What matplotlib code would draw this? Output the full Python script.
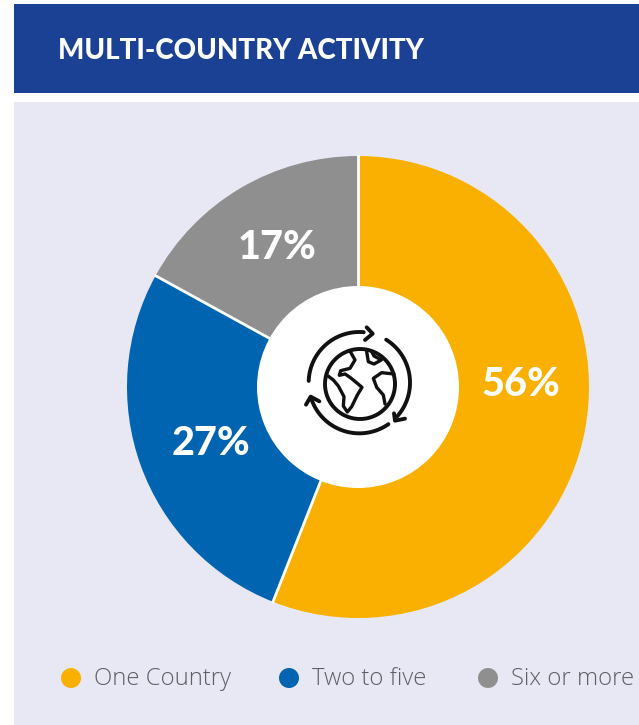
import numpy as np
import matplotlib
matplotlib.use("Agg")
import matplotlib.pyplot as plt
from matplotlib.patches import Circle, Rectangle

# --- Data ---
categories = ["One Country", "Two to five", "Six or more"]
shares = [56, 27, 17]
colors = ["#F9B000", "#0064B1", "#8F8F8F"]

W, H = 639, 725
CX, CY = 358, 338  # donut centre, y measured from the bottom
R_OUT, R_IN = 231, 101

fig = plt.figure(figsize=(W / 100, H / 100), dpi=100, facecolor="white")
ax = fig.add_axes([0, 0, 1, 1])

# --- Donut ---
ax.pie(shares, colors=colors, startangle=90, counterclock=False,
       center=(CX, CY), radius=R_OUT, frame=False,
       wedgeprops={"linewidth": 0, "zorder": 2})
ax.set_xlim(0, W)
ax.set_ylim(0, H)
ax.set_aspect("equal")
ax.axis("off")

# white separators between the slices
bounds = 90 - 3.6 * np.cumsum([0] + shares[:-1])
for a in np.radians(bounds):
    ax.plot([CX, CX + R_OUT * np.cos(a)], [CY, CY + R_OUT * np.sin(a)],
            color="white", lw=2.0, zorder=2.5)
ax.add_patch(Circle((CX, CY), R_IN, color="white", lw=0, zorder=3))

# --- Header and panel ---
ax.add_patch(Rectangle((14, 0), W - 14, H - 102, color="#E8E8F5", lw=0, zorder=1))
ax.add_patch(Rectangle((14, H - 93), W - 14, 89, color="#1A4194", lw=0, zorder=1))
ax.text(58, H - 51, "MULTI-COUNTRY ACTIVITY", color="white", fontsize=20,
        fontfamily="Lato", fontweight="black", va="center", ha="left")

label_pos = [(521, H - 384), (211, H - 443), (277, H - 247)]
for v, (x, y) in zip(shares, label_pos):
    ax.text(x, y, f"{v}%", color="white", fontsize=28.5, fontfamily="Lato",
            fontweight="black", ha="center", va="center", zorder=4)

# --- Globe icon ---
ICON_X, ICON_Y = 270, 300


def icon_xy(pts):
    pts = np.asarray(pts, dtype=float)
    return ICON_X + pts[:, 0] / 3, H - (ICON_Y + pts[:, 1] / 3)


def icon_line(pts, lw=2.8):
    x, y = icon_xy(pts)
    ax.plot(x, y, color="#111111", lw=lw, zorder=5,
            solid_capstyle="round", solid_joinstyle="round")


def icon_arc(a0, a1, r=152, c=(268, 248)):
    t = np.radians(np.linspace(a0, a1, 60))
    return np.column_stack([c[0] + r * np.cos(t), c[1] - r * np.sin(t)])


t = np.linspace(0, 2 * np.pi, 100)
icon_line(np.column_stack([270 + 105 * np.cos(t), 252 + 105 * np.sin(t)]))

# circulating arrows
icon_line(icon_arc(178, 85))
icon_line([(290, 82), (308, 101), (285, 120)])
icon_line(icon_arc(58, -42))
icon_line([(372, 340), (375, 362), (405, 356)])
icon_line(icon_arc(-55, -162))
icon_line([(108, 314), (122, 290), (148, 304)])

# continents
icon_line([(240, 153), (255, 180), (240, 205), (212, 212), (208, 226), (225, 222),
           (240, 232), (262, 250), (276, 262), (262, 285), (245, 320), (232, 336),
           (220, 318), (222, 290), (205, 258), (190, 240), (170, 225)], lw=2.4)
icon_line([(290, 155), (295, 185), (312, 192), (334, 180), (312, 168), (305, 155)], lw=2.4)
icon_line([(372, 222), (335, 218), (310, 235), (320, 262), (340, 285), (345, 312)], lw=2.4)

# --- Legend ---
dot_x = [71, 289, 488]
text_x = [94, 312, 511]
for name, col, dx, tx in zip(categories, colors, dot_x, text_x):
    ax.add_patch(Circle((dx, H - 678), 10, color=col, lw=0, zorder=2))
    ax.text(tx, H - 679, name, color="#5E5E66", fontsize=17.2, fontfamily="Open Sans",
            fontweight="light", va="center", ha="left")

fig.savefig("out.png", dpi=100, facecolor="white")
